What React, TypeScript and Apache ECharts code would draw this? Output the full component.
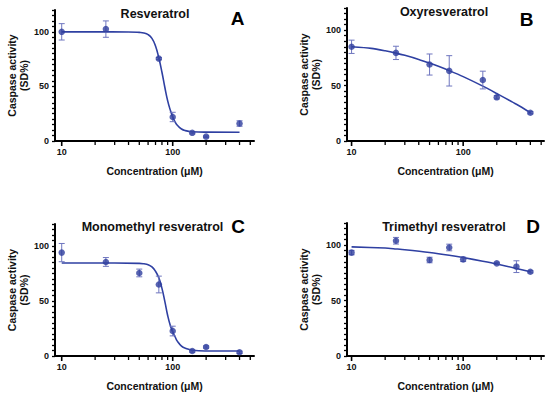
import React, { useEffect, useRef } from "react";
import * as echarts from "echarts";

const FONT = '"Liberation Sans", Arial, Helvetica, sans-serif';
const POINT = "#2e3d9e";
const LINE = "#2f40a2";
const ERR = "#6f76bf";

// tick values on the log x axes
const xTickValues = [10, 20, 30, 40, 50, 60, 70, 80, 90, 100, 200, 300, 400, 500];
const xLabelValues = [10, 100];
const yLabelValues = [0, 50, 100];

// Panel A – Resveratrol
const concA = [10, 25, 75, 100, 150, 200, 400];
const meanA = [100, 102.5, 75.5, 22, 7.5, 4, 16];
const sdA = [7.5, 7.5, 1, 4.3, 1, 0.6, 2.5];
const fitXA = [10, 20, 40, 50, 55, 60, 65, 70, 75, 80, 85, 90, 95, 100, 105, 110, 120, 130, 150, 200, 400];
const fitYA = [100, 100, 99.9, 99.5, 99, 97.5, 94, 87, 76, 63, 49, 37, 28.5, 22, 17.5, 14.5, 11, 9.5, 8.5, 8.1, 8];

// Panel B – Oxyresveratrol
const concB = [10, 25, 50, 75, 150, 200, 400];
const meanB = [85, 79.5, 69, 63.3, 55, 39.4, 25.5];
const sdB = [6, 6, 9.5, 13.7, 8, 1.5, 1];
const fitXB = [10, 15, 20, 25, 30, 40, 50, 60, 75, 100, 150, 200, 300, 400];
const fitYB = [85, 83.6, 81.4, 79.3, 77.3, 73.6, 70.3, 67.4, 63.5, 58.1, 49.5, 42.8, 33.1, 25.5];

// Panel C – Monomethyl resveratrol
const concC = [10, 25, 50, 75, 100, 150, 200, 400];
const meanC = [94, 85.5, 75.5, 65, 22.7, 4.5, 8.2, 3.4];
const sdC = [8.3, 4, 3.5, 7.6, 4.4, 1, 1, 1];
const fitXC = [10, 30, 50, 55, 60, 65, 70, 75, 80, 85, 90, 95, 100, 105, 110, 120, 130, 150, 200, 400];
const fitYC = [84.5, 84.5, 84.2, 83.8, 83, 81, 77, 71, 61.5, 49.5, 37, 28, 22, 17.5, 13.5, 9, 7, 5.3, 4.6, 4.5];

// Panel D – Trimethyl resveratrol
const concD = [10, 25, 50, 75, 100, 200, 300, 400];
const meanD = [93.3, 104, 86.6, 97.9, 87.2, 83.6, 80.6, 76];
const sdD = [2, 3, 2.5, 3, 2, 1, 5.3, 1];
const fitXD = [10, 20, 25, 30, 50, 75, 100, 150, 200, 300, 400];
const fitYD = [98.5, 97.4, 96.6, 95.9, 93.4, 90.9, 88.8, 85.5, 83, 79, 76];

const titles = ["Resveratrol", "Oxyresveratrol", "Monomethyl resveratrol", "Trimethyl resveratrol"];
const letters = ["A", "B", "C", "D"];

const panels = [
  { conc: concA, mean: meanA, sd: sdA, fx: fitXA, fy: fitYA, smooth: 0.5 },
  { conc: concB, mean: meanB, sd: sdB, fx: fitXB, fy: fitYB, smooth: 0.25 },
  { conc: concC, mean: meanC, sd: sdC, fx: fitXC, fy: fitYC, smooth: 0.5 },
  { conc: concD, mean: meanD, sd: sdD, fx: fitXD, fy: fitYD, smooth: 0.25 },
];

const grids = [
  { left: 55, top: 10, width: 199, height: 131 },
  { left: 347, top: 8, width: 197, height: 133 },
  { left: 55, top: 224, width: 199, height: 132 },
  { left: 347, top: 223, width: 197, height: 133 },
];
const xRanges = [
  [8.7, 540],
  [9.1, 530],
  [8.7, 540],
  [9.1, 530],
];
const titlePos = [
  [155, 14],
  [444, 12],
  [152.5, 227],
  [444, 227],
];
const letterPos = [
  [237.5, 18.5],
  [526.5, 19],
  [238, 226.5],
  [533, 226.5],
];

export default function App() {
  const ref = useRef<HTMLDivElement>(null);
  useEffect(() => {
    if (!ref.current) return;
    const chart = echarts.init(ref.current, null, { renderer: "svg" });

    const xAxis: any[] = [];
    const yAxis: any[] = [];
    const series: any[] = [];

    panels.forEach((p, i) => {
      xAxis.push({
        type: "log",
        logBase: 10,
        gridIndex: i,
        min: xRanges[i][0],
        max: xRanges[i][1],
        name: "Concentration (\u03bcM)",
        nameLocation: "middle",
        nameGap: 24,
        nameTextStyle: { fontFamily: FONT, fontWeight: "bold", fontSize: 10.5, color: "#111" },
        axisLine: { show: true, lineStyle: { color: "#000", width: 2 } },
        axisTick: { show: false },
        splitLine: { show: false },
        minorTick: { show: false },
        axisLabel: {
          margin: 6,
          fontFamily: FONT,
          fontWeight: "bold",
          fontSize: 9,
          color: "#111",
          showMinLabel: true,
          showMaxLabel: true,
          formatter: (v: number) =>
            xLabelValues.some((t) => Math.abs(v - t) < 1e-6 * t) ? String(Math.round(v)) : "",
        },
      });
      yAxis.push({
        type: "value",
        gridIndex: i,
        min: 0,
        max: 120,
        interval: 5,
        name: "Caspase activity\n(SD%)",
        nameLocation: "middle",
        nameRotate: 90,
        nameGap: 24,
        nameTextStyle: {
          fontFamily: FONT,
          fontWeight: "bold",
          fontSize: 10.5,
          lineHeight: 12,
          color: "#111",
        },
        axisLine: { show: true, lineStyle: { color: "#000", width: 2 } },
        axisTick: { show: true, length: 3, lineStyle: { color: "#000", width: 1.3 } },
        splitLine: { show: false },
        axisLabel: {
          margin: 6,
          fontFamily: FONT,
          fontWeight: "bold",
          fontSize: 9,
          color: "#111",
          formatter: (v: number) => (yLabelValues.includes(v) ? String(v) : ""),
        },
      });

      // x-axis tick marks (drawn via the axis scale)
      series.push({
        type: "custom",
        xAxisIndex: i,
        yAxisIndex: i,
        silent: true,
        clip: false,
        z: 5,
        data: xTickValues.map((v) => [v, 0]),
        renderItem: (params: any, api: any) => {
          const v = api.value(0);
          const c = api.coord([v, 0]);
          const major = xLabelValues.includes(v);
          return {
            type: "line",
            shape: { x1: c[0], y1: c[1], x2: c[0], y2: c[1] + (major ? 5 : 4) },
            style: { stroke: "#000", lineWidth: major ? 1.6 : 1.3 },
          };
        },
      });

      // fitted curve
      series.push({
        type: "line",
        xAxisIndex: i,
        yAxisIndex: i,
        data: p.fx.map((x, k) => [x, p.fy[k]]),
        showSymbol: false,
        symbol: "none",
        smooth: p.smooth,
        lineStyle: { color: LINE, width: 1.6 },
        z: 2,
      });

      // error bars
      series.push({
        type: "custom",
        xAxisIndex: i,
        yAxisIndex: i,
        silent: true,
        z: 3,
        data: p.conc.map((x, k) => [x, p.mean[k], p.sd[k]]),
        renderItem: (params: any, api: any) => {
          const x = api.value(0);
          const y = api.value(1);
          const e = api.value(2);
          const t = api.coord([x, y + e]);
          const b = api.coord([x, y - e]);
          const cap = 3;
          const st = { stroke: ERR, lineWidth: 1 };
          return {
            type: "group",
            children: [
              { type: "line", shape: { x1: t[0], y1: t[1], x2: b[0], y2: b[1] }, style: st },
              { type: "line", shape: { x1: t[0] - cap, y1: t[1], x2: t[0] + cap, y2: t[1] }, style: st },
              { type: "line", shape: { x1: b[0] - cap, y1: b[1], x2: b[0] + cap, y2: b[1] }, style: st },
            ],
          };
        },
      });

      // mean points
      series.push({
        type: "scatter",
        xAxisIndex: i,
        yAxisIndex: i,
        data: p.conc.map((x, k) => [x, p.mean[k]]),
        symbol: "circle",
        symbolSize: 6.5,
        itemStyle: { color: POINT },
        z: 4,
      });
    });

    const graphic: any[] = [];
    titles.forEach((t, i) => {
      graphic.push({
        type: "text",
        x: titlePos[i][0],
        y: titlePos[i][1],
        style: {
          text: t,
          fontFamily: FONT,
          fontWeight: "bold",
          fontSize: 12.5,
          fill: "#111",
          textAlign: "center",
          textVerticalAlign: "middle",
        },
      });
      graphic.push({
        type: "text",
        x: letterPos[i][0],
        y: letterPos[i][1],
        style: {
          text: letters[i],
          fontFamily: FONT,
          fontWeight: "bold",
          fontSize: 19,
          fill: "#000",
          textAlign: "center",
          textVerticalAlign: "middle",
        },
      });
    });

    chart.setOption({
      animation: false,
      backgroundColor: "#ffffff",
      grid: grids,
      xAxis,
      yAxis,
      series,
      graphic,
    });
    return () => chart.dispose();
  }, []);

  return (
    <div
      ref={ref}
      style={{ position: "absolute", left: 0, top: 0, width: 550, height: 397, background: "#fff" }}
    />
  );
}
